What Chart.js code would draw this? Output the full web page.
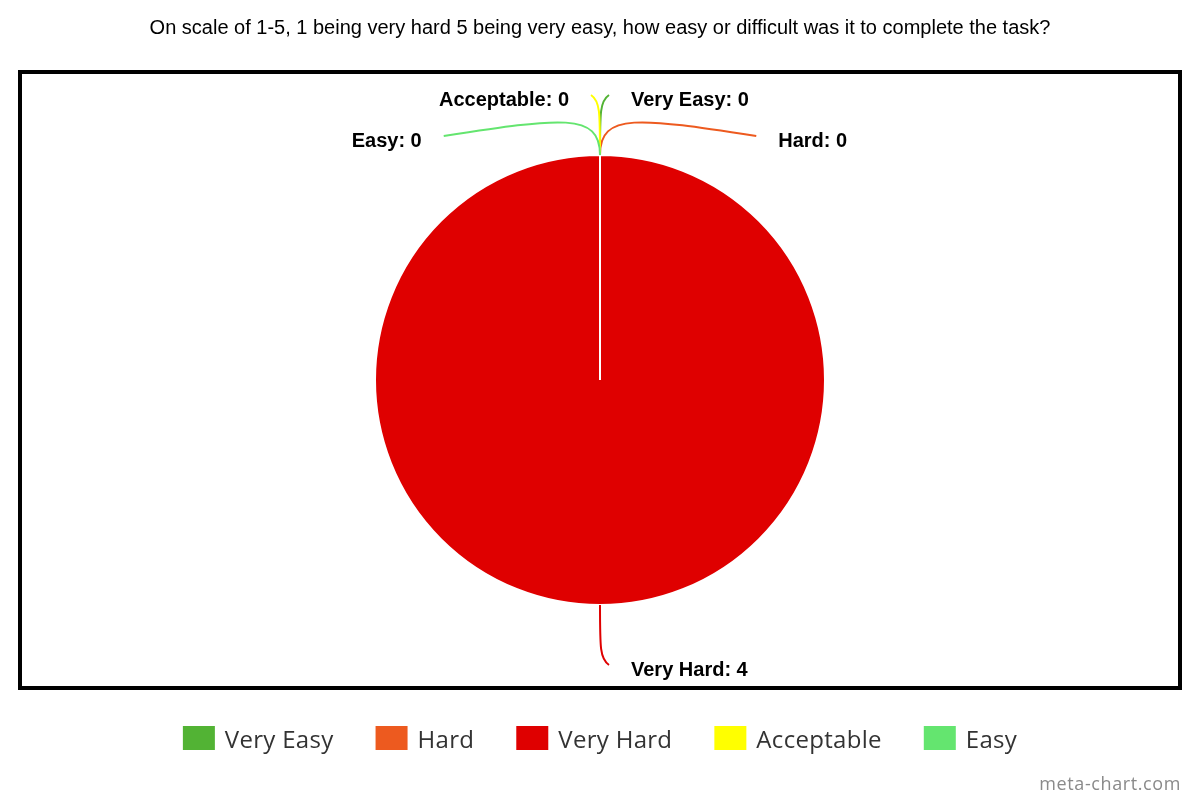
<!DOCTYPE html>
<html><head><meta charset="utf-8">
<script src="https://cdn.jsdelivr.net/npm/chart.js@4/dist/chart.umd.min.js"></script>
<style>html,body{margin:0;padding:0;background:#fff}canvas{display:block}</style>
</head><body>
<canvas id="c" width="1200" height="800"></canvas>
<script>
const chartTitle = "On scale of 1-5, 1 being very hard 5 being very easy, how easy or difficult was it to complete the task?";
const categories = ["Very Easy", "Hard", "Very Hard", "Acceptable", "Easy"];
const responses = [0, 0, 4, 0, 0];
const sliceColors = ["#52b334", "#ed5a1f", "#df0000", "#ffff00", "#64e56f"];
const watermark = "meta-chart.com";

const decor = {
  id: 'decor',
  beforeDraw(chart) {
    const ctx = chart.ctx;
    ctx.save();
    ctx.fillStyle = '#fff';
    ctx.fillRect(0, 0, chart.width, chart.height);
    ctx.fillStyle = '#000';
    ctx.font = '20px "Liberation Sans", Arial, sans-serif';
    ctx.textAlign = 'center';
    ctx.textBaseline = 'middle';
    ctx.fillText(chartTitle, 600, 28);
    ctx.strokeStyle = '#000';
    ctx.lineWidth = 4;
    ctx.strokeRect(20, 72, 1160, 616);
    ctx.restore();
  },
  afterDraw(chart) {
    const ctx = chart.ctx;
    const meta = chart.getDatasetMeta(0);
    const items = meta.data.map((a, i) => {
      const p = a.getProps(['x', 'y', 'startAngle', 'endAngle', 'outerRadius'], true);
      const mid = (p.startAngle + p.endAngle) / 2;
      return { i, mid, cx: p.x, cy: p.y, r: p.outerRadius, side: mid <= Math.PI / 2 + 1e-6 ? 1 : -1 };
    });
    const gap = 41;
    [1, -1].forEach(side => {
      const grp = items.filter(o => o.side === side);
      grp.forEach(o => { o.R = o.r + 60; o.ly = o.cy + o.R * Math.sin(o.mid); });
      grp.sort((a, b) => (a.ly - b.ly) || (a.i - b.i));
      let prev = -Infinity;
      grp.forEach(o => {
        if (o.ly < prev + gap) o.ly = prev + gap;
        prev = o.ly;
        const dy = o.ly - o.cy;
        o.lx = o.cx + side * (Math.sqrt(Math.max(o.R * o.R - dy * dy, 0)) + 9);
      });
    });
    ctx.save();
    ctx.lineWidth = 2;
    items.forEach(o => {
      const c = Math.cos(o.mid), s = Math.sin(o.mid);
      const ax = o.cx + o.r * c, ay = o.cy + o.r * s;
      // radial depth of the label end beyond the rim
      const d = (o.lx - o.cx) * c + (o.ly - o.cy) * s - o.r;
      const steep = d > 40;
      const k1 = steep ? d * 0.72 : 43, k2 = steep ? d * 0.9 : 37, w = steep ? 0 : 0.25;
      const c1x = o.cx + (o.r + k1) * c, c1y = o.cy + (o.r + k1) * s;
      const c2x = o.cx + (o.r + k2) * c + (o.lx - ax) * w, c2y = o.cy + (o.r + k2) * s;
      ctx.strokeStyle = sliceColors[o.i];
      ctx.beginPath();
      ctx.moveTo(ax, ay);
      ctx.bezierCurveTo(c1x, c1y, c2x, c2y, o.lx, o.ly);
      ctx.stroke();
    });
    ctx.fillStyle = '#000';
    ctx.font = 'bold 20px "Liberation Sans", Arial, sans-serif';
    ctx.textBaseline = 'alphabetic';
    items.forEach(o => {
      const txt = categories[o.i] + ': ' + responses[o.i];
      ctx.textAlign = o.side === 1 ? 'left' : 'right';
      ctx.fillText(txt, o.lx + o.side * 22, o.ly + 10.5);
    });
    // legend
    ctx.font = '24px "Open Sans", sans-serif';
    if ('letterSpacing' in ctx) ctx.letterSpacing = '0.3px';
    const boxW = 32, boxH = 24, tgap = 10, spacing = 42;
    const widths = categories.map(c => boxW + tgap + ctx.measureText(c).width);
    const total = widths.reduce((s, w) => s + w, 0) + spacing * (categories.length - 1);
    let x = 600 - total / 2;
    ctx.textAlign = 'left';
    categories.forEach((c, i) => {
      ctx.fillStyle = sliceColors[i];
      ctx.fillRect(x, 726, boxW, boxH);
      ctx.fillStyle = '#333';
      ctx.fillText(c, x + boxW + tgap, 748);
      x += widths[i] + spacing;
    });
    ctx.font = '18px "Open Sans", sans-serif';
    if ('letterSpacing' in ctx) ctx.letterSpacing = '0.6px';
    ctx.fillStyle = '#8a8a8a';
    ctx.textAlign = 'right';
    ctx.fillText(watermark, 1181, 790);
    ctx.restore();
  }
};

new Chart(document.getElementById('c'), {
  type: 'pie',
  data: {
    labels: categories,
    datasets: [{ data: responses, backgroundColor: sliceColors, borderColor: '#fff', borderWidth: 2 }]
  },
  options: {
    responsive: false,
    animation: false,
    layout: { padding: { left: 374, right: 374, top: 154, bottom: 194 } },
    plugins: { legend: { display: false }, title: { display: false }, tooltip: { enabled: false } }
  },
  plugins: [decor]
});
</script>
</body></html>
